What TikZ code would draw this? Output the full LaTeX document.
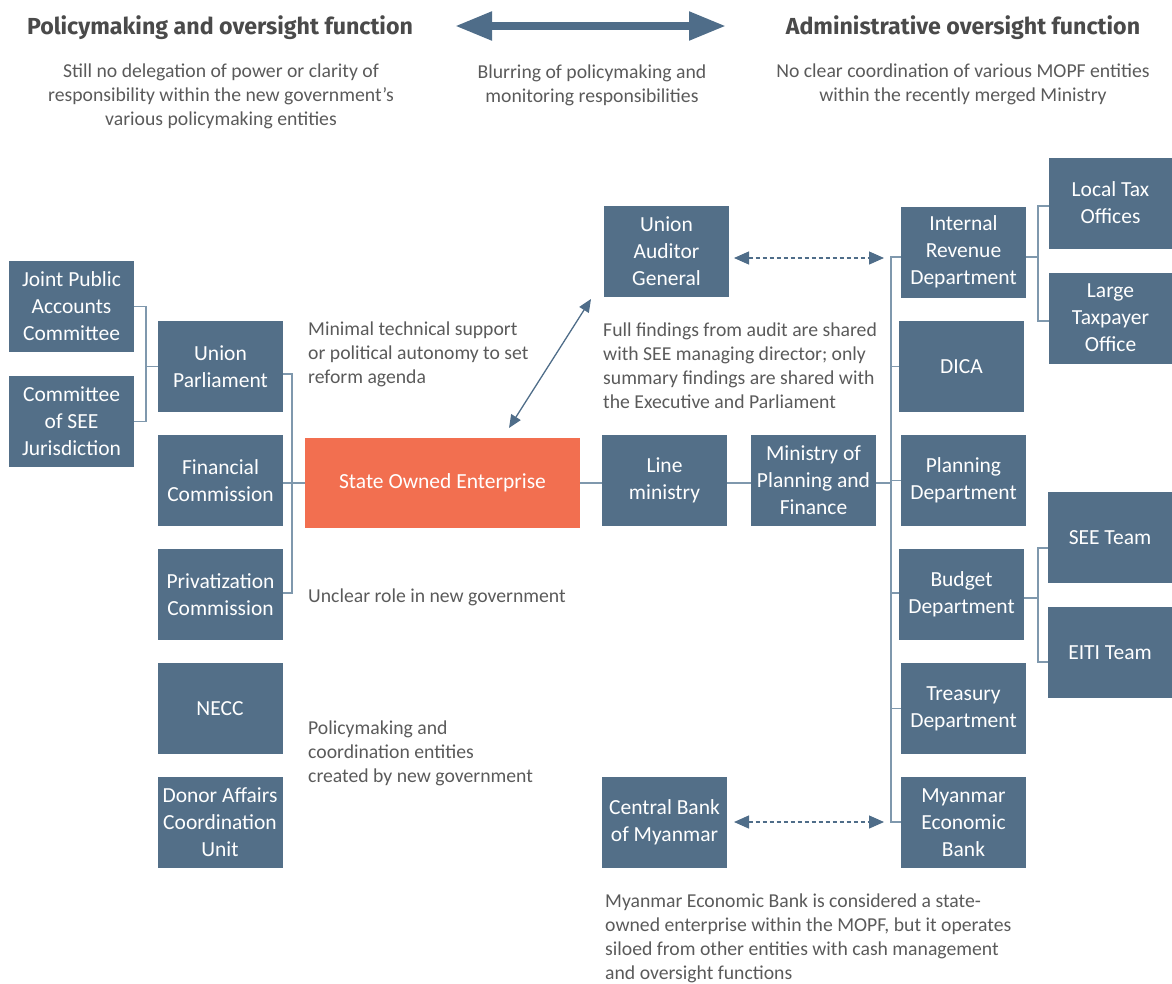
\documentclass[tikz,border=0pt]{standalone}
\usepackage{fontspec}
\setmainfont{Carlito}
\newfontfamily\headfont{Fira Sans}
\usetikzlibrary{arrows.meta}
\definecolor{boxc}{HTML}{536F88}
\definecolor{soec}{HTML}{F26F50}
\definecolor{linec}{HTML}{7F98AD}
\definecolor{arrc}{HTML}{4F6D89}
\definecolor{txtc}{HTML}{5A5A5A}
\definecolor{headc}{HTML}{4A4A4A}
\tikzset{
  ebox/.style={rectangle, fill=boxc, text=white, align=center, inner sep=0pt,
    minimum width=125pt, minimum height=91pt, font=\fontsize{21.5}{27}\selectfont},
  conn/.style={draw=linec, line width=1.4pt},
  dasharrow/.style={draw=arrc, line width=1.2pt, dash pattern=on 4pt off 3pt,
    {Triangle[length=15pt,width=13pt]}-{Triangle[length=15pt,width=13pt]}},
  solidarrow/.style={draw=arrc, line width=1.3pt,
    {Triangle[length=13pt,width=11pt]}-{Triangle[length=13pt,width=11pt]}},
  note/.style={text=txtc, inner sep=0pt, font=\fontsize{19.7}{24}\selectfont},
  heading/.style={text=headc, inner sep=0pt, font=\headfont\bfseries\fontsize{23.2}{26}\selectfont},
}
\begin{document}
\begin{tikzpicture}[x=1pt,y=-1pt]
\path[use as bounding box] (0,0) rectangle (1172,983);

% headings
\node[heading] (h1) at (220,27.5) {Policymaking and oversight function};
\node[heading] (h2) at (963,27.5) {Administrative oversight function};
\coordinate (ta) at (455,26);
\coordinate (tb) at (726,26);
\draw[draw=arrc, line width=8pt, {Triangle[length=37pt,width=27pt]}-{Triangle[length=37pt,width=27pt]}] (ta) -- (tb);

\node[note, align=center, anchor=north] (n1) at (221,64) {Still no delegation of power or clarity of\\responsibility within the new government’s\\various policymaking entities};
\node[note, align=center, anchor=north] (n2) at (592,65) {Blurring of policymaking and\\monitoring responsibilities};
\node[note, align=center, anchor=north] (n3) at (963,64) {No clear coordination of various MOPF entities\\within the recently merged Ministry};

% left side boxes
\node[ebox] (jpac) at (71.5,306.5) {Joint Public\\Accounts\\Committee};
\node[ebox] (csj) at (71.5,421.5) {Committee\\of SEE\\Jurisdiction};
\node[ebox] (up) at (220.5,366.5) {Union\\Parliament};
\node[ebox] (fc) at (220.5,480.5) {Financial\\Commission};
\node[ebox] (pc) at (220.5,594.5) {Privatization\\Commission};
\node[ebox] (necc) at (220,708.5) {NECC};
\node[ebox] (dacu) at (220,822.5) {Donor Affairs\\Coordination\\Unit};
\node[ebox, fill=soec, minimum width=275pt, minimum height=90pt] (soe) at (442.5,483) {State Owned Enterprise};

% middle boxes
\node[ebox] (uag) at (666.5,251.5) {Union\\Auditor\\General};
\node[ebox] (lm) at (664.5,480.5) {Line\\ministry};
\node[ebox] (mopf) at (813.5,480.5) {Ministry of\\Planning and\\Finance};
\node[ebox] (cbm) at (664.5,822.5) {Central Bank\\of Myanmar};

% right column
\node[ebox] (ird) at (963.5,252) {Internal\\Revenue\\Department};
\node[ebox] (dica) at (961.5,366.5) {DICA};
\node[ebox] (pd) at (963.5,480.5) {Planning\\Department};
\node[ebox] (bd) at (961.5,594.5) {Budget\\Department};
\node[ebox] (td) at (963.5,708.5) {Treasury\\Department};
\node[ebox] (meb) at (963.5,822.5) {Myanmar\\Economic\\Bank};

% far right
\node[ebox, minimum width=123pt] (lto) at (1110.5,203) {Local Tax\\Offices};
\node[ebox, minimum width=123pt] (lgo) at (1110.5,318) {Large\\Taxpayer\\Office};
\node[ebox, minimum width=124pt] (seet) at (1110,537.5) {SEE Team};
\node[ebox, minimum width=124pt] (eiti) at (1110,652.5) {EITI Team};

% notes
\node[note, align=left, anchor=north west] (n4) at (308,322) {Minimal technical support\\or political autonomy to set\\reform agenda};
\node[note, align=left, anchor=north west] (n5) at (603,323) {Full findings from audit are shared\\with SEE managing director; only\\summary findings are shared with\\the Executive and Parliament};
\node[note, align=left, anchor=north west] (n6) at (308,589) {Unclear role in new government};
\node[note, align=left, anchor=north west] (n7) at (308,721) {Policymaking and\\coordination entities\\created by new government};
\node[note, align=left, anchor=north west] (n8) at (605,894) {Myanmar Economic Bank is considered a state-\\owned enterprise within the MOPF, but it operates\\siloed from other entities with cash management\\and oversight functions};

% left connectors
\coordinate (b1) at (146,366.5);
\draw[conn] (jpac.east) -| (b1);
\draw[conn] (csj.east) -| (b1);
\draw[conn] (b1) -- (up.west);
\coordinate (b2) at (292,374);
\coordinate (b3) at (292,593);
\draw[conn] (up.east |- b2) -- (b2) -- (b3) -- (pc.east |- b3);
\draw[conn] (fc.east |- soe.west) -- (soe.west);

% middle connectors
\draw[conn] (soe.east) -- (lm.west |- soe.east);
\draw[conn] (lm.east |- soe.east) -- (mopf.west |- soe.east);
\coordinate (tt) at (891,257);
\coordinate (tbm) at (891,822);
\draw[conn] (mopf.east |- soe.east) -- (tt |- soe.east);
\draw[conn] (ird.west |- tt) -- (tt) -- (tbm) -- (meb.west |- tbm);
\draw[conn] (tt |- dica.west) -- (dica.west);
\draw[conn] (tt |- pd.west) -- (pd.west);
\draw[conn] (tt |- 0,593) -- (bd.west |- 0,593);
\draw[conn] (tt |- td.west) -- (td.west);

% right brackets
\coordinate (r1) at (1038,257);
\draw[conn] (ird.east |- r1) -- (r1);
\draw[conn] (lto.west |- 0,206) -| (r1 |- 0,321) -- (lgo.west |- 0,321);
\coordinate (r2) at (1038,598);
\draw[conn] (bd.east |- r2) -- (r2);
\draw[conn] (seet.west |- 0,548) -| (r2 |- 0,662) -- (eiti.west |- 0,662);

% arrows
\coordinate (d1) at (734,258);
\coordinate (d2) at (884,258);
\draw[dasharrow] (d1) -- (d2);
\coordinate (d3) at (734,822);
\coordinate (d4) at (884,822);
\draw[dasharrow] (d3) -- (d4);
\coordinate (a1) at (509,428);
\coordinate (a2) at (591,299);
\draw[solidarrow] (a1) -- (a2);
\end{tikzpicture}
\end{document}
